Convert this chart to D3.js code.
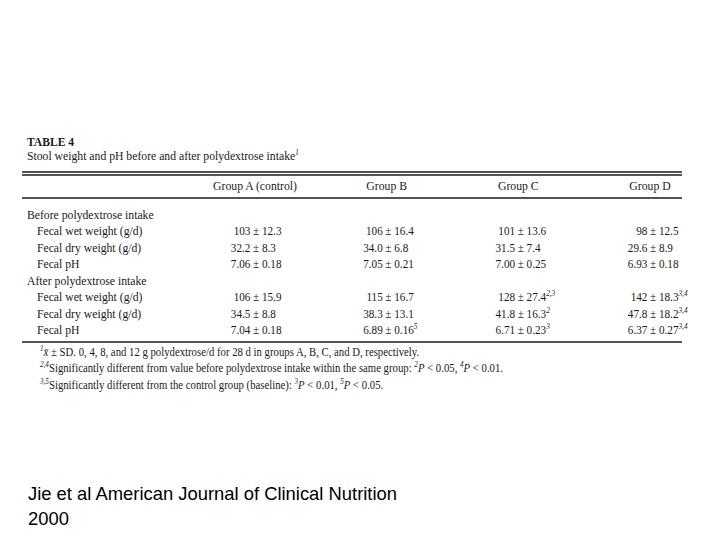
<!DOCTYPE html>
<html>
<head>
<meta charset="utf-8">
<script src="https://cdn.jsdelivr.net/npm/d3@7/dist/d3.min.js"></script>
<style>
  html, body { margin: 0; padding: 0; background: #fff; }
  svg { display: block; }
</style>
</head>
<body>
<div id="chart"></div>
<script>
// ---- data ----
const tableTitle = "TABLE 4";
const tableSubtitle = "Stool weight and pH before and after polydextrose intake";
const groups = ["Group A (control)", "Group B", "Group C", "Group D"];
const sections = ["Before polydextrose intake", "After polydextrose intake"];
const measures = ["Fecal wet weight (g/d)", "Fecal dry weight (g/d)", "Fecal pH"];
const meanDecimals = [0, 1, 2];
const sdDecimals = [1, 1, 2];
const beforeMean = [[103, 106, 101, 98], [32.2, 34.0, 31.5, 29.6], [7.06, 7.05, 7.00, 6.93]];
const beforeSD   = [[12.3, 16.4, 13.6, 12.5], [8.3, 6.8, 7.4, 8.9], [0.18, 0.21, 0.25, 0.18]];
const afterMean  = [[106, 115, 128, 142], [34.5, 38.3, 41.8, 47.8], [7.04, 6.89, 6.71, 6.37]];
const afterSD    = [[15.9, 16.7, 27.4, 18.3], [8.8, 13.1, 16.3, 18.2], [0.18, 0.16, 0.23, 0.27]];
const afterSup   = [["", "", "2,3", "3,4"], ["", "", "2", "3,4"], ["", "5", "3", "3,4"]];
const footnotes = [
  [{t: "1", sup: true}, {t: "x\u0304", it: true}, {t: " \u00b1 SD. 0, 4, 8, and 12 g polydextrose/d for 28 d in groups A, B, C, and D, respectively."}],
  [{t: "2,4", sup: true}, {t: "Significantly different from value before polydextrose intake within the same group: "}, {t: "2", sup: true}, {t: "P", it: true}, {t: " < 0.05, "}, {t: "4", sup: true}, {t: "P", it: true}, {t: " < 0.01."}],
  [{t: "3,5", sup: true}, {t: "Significantly different from the control group (baseline): "}, {t: "3", sup: true}, {t: "P", it: true}, {t: " < 0.01, "}, {t: "5", sup: true}, {t: "P", it: true}, {t: " < 0.05."}]
];
const citation = ["Jie et al American Journal of Clinical Nutrition", "2000"];

// ---- layout ----
const W = 720, H = 540;
const svg = d3.select("#chart").append("svg").attr("width", W).attr("height", H);
const serif = "'Liberation Serif', 'Times New Roman', serif";
const ink = "#1a1a1a";
const FS = 13, SX = 0.9;
const squeeze = x0 => `translate(${x0},0) scale(${SX},1) translate(${-x0},0)`;

const tbl = svg.append("g");
const left = 22, right = 682;

// column scale: position of the ± sign in each group column
const x = d3.scalePoint().domain(groups).range([253, 650]);
const xHead = d3.scalePoint().domain(groups).range([255, 650]);

// rows
const rowKeys = [];
sections.forEach((s, si) => {
  rowKeys.push({key: "s" + si, label: s, indent: 10 * 0, sec: si, m: -1});
  measures.forEach((m, mi) => rowKeys.push({key: "s" + si + "m" + mi, label: m, indent: 10, sec: si, m: mi}));
});
const y = d3.scalePoint().domain(rowKeys.map(d => d.key)).range([219, 334]);

// title
tbl.append("text").attr("x", 27).attr("y", 146)
  .attr("font-family", serif).attr("font-size", 13.5).attr("font-weight", "bold")
  .attr("fill", ink).attr("transform", "translate(27,0) scale(0.86,1) translate(-27,0)")
  .text(tableTitle);
const sub = tbl.append("text").attr("x", 27).attr("y", 160)
  .attr("font-family", serif).attr("font-size", FS).attr("fill", ink)
  .attr("transform", squeeze(27));
sub.append("tspan").text(tableSubtitle);
sub.append("tspan").attr("font-size", 8).attr("dy", -5).attr("font-style", "italic").text("1");

// rules
const rules = [172, 175, 198, 342];
tbl.selectAll("line.rule").data(rules).join("line")
  .attr("class", "rule")
  .attr("x1", left).attr("x2", right)
  .attr("y1", d => d).attr("y2", d => d)
  .attr("stroke", ink).attr("stroke-width", 1.3);

// header
tbl.selectAll("text.head").data(groups).join("text")
  .attr("class", "head")
  .attr("x", d => xHead(d)).attr("y", 190)
  .attr("text-anchor", "middle")
  .attr("font-family", serif).attr("font-size", FS).attr("fill", ink)
  .attr("transform", d => squeeze(xHead(d)))
  .text(d => d);

// row labels
tbl.selectAll("text.rowlab").data(rowKeys).join("text")
  .attr("class", "rowlab")
  .attr("x", d => 27 + d.indent).attr("y", d => y(d.key))
  .attr("font-family", serif).attr("font-size", FS).attr("fill", ink)
  .attr("transform", d => squeeze(27 + d.indent))
  .text(d => d.label);

// cells
const cells = [];
rowKeys.filter(r => r.m >= 0).forEach(r => {
  groups.forEach((g, gi) => {
    const mean = r.sec === 0 ? beforeMean[r.m][gi] : afterMean[r.m][gi];
    const sd = r.sec === 0 ? beforeSD[r.m][gi] : afterSD[r.m][gi];
    const sup = r.sec === 0 ? "" : afterSup[r.m][gi];
    cells.push({row: r.key, g, mean: mean.toFixed(meanDecimals[r.m]), sd: sd.toFixed(sdDecimals[r.m]), sup});
  });
});
const cg = tbl.selectAll("g.cell").data(cells).join("g")
  .attr("class", "cell")
  .attr("transform", d => `translate(${x(d.g)},${y(d.row)}) scale(0.86,1)`);
cg.append("text").attr("x", -3).attr("text-anchor", "end")
  .attr("font-family", serif).attr("font-size", FS).attr("fill", ink)
  .text(d => d.mean);
cg.append("text").attr("x", 0).attr("text-anchor", "start")
  .attr("font-family", serif).attr("font-size", FS).attr("fill", ink)
  .text(d => "\u00b1 " + d.sd)
  .append("tspan").attr("font-size", 8.5).attr("font-style", "italic").attr("dy", -5)
  .text(d => d.sup);

// footnotes
const fy = d3.scalePoint().domain(d3.range(footnotes.length)).range([356, 389]);
footnotes.forEach((parts, i) => {
  const t = tbl.append("text").attr("x", 40).attr("y", fy(i))
    .attr("font-family", serif).attr("font-size", 12).attr("fill", ink)
    .attr("transform", "translate(40,0) scale(0.895,1) translate(-40,0)");
  let prevSup = false;
  parts.forEach(p => {
    const ts = t.append("tspan").text(p.t);
    if (p.sup) {
      ts.attr("font-size", 8).attr("font-style", "italic").attr("dy", prevSup ? 0 : -5);
      prevSup = true;
    } else {
      if (prevSup) ts.attr("dy", 5);
      if (p.it) ts.attr("font-style", "italic");
      prevSup = false;
    }
  });
});

// citation
svg.selectAll("text.cite").data(citation).join("text")
  .attr("class", "cite")
  .attr("x", 28).attr("y", (d, i) => 500 + i * 25)
  .attr("font-family", "'Liberation Sans', Arial, sans-serif").attr("font-size", 18.4)
  .attr("fill", "#000").text(d => d);
</script>
</body>
</html>
